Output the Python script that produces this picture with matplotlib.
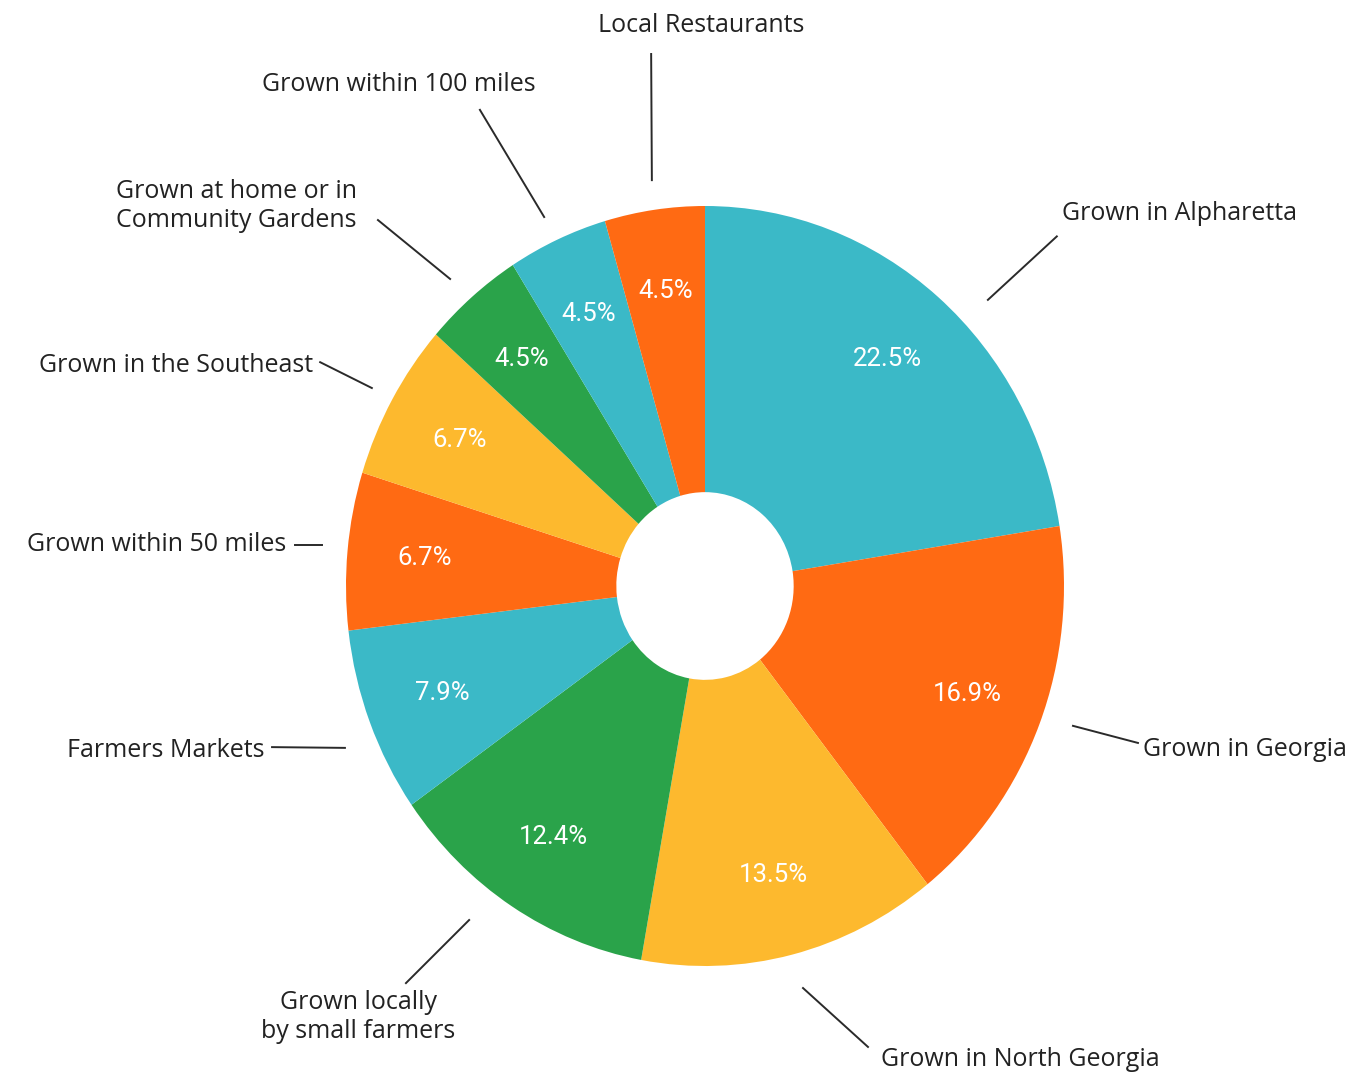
import matplotlib
matplotlib.use("Agg")
import matplotlib.pyplot as plt
import numpy as np

labels = ["Grown in Alpharetta", "Grown in Georgia", "Grown in North Georgia",
          "Grown locally\nby small farmers", "Farmers Markets", "Grown within 50 miles",
          "Grown in the Southeast", "Grown at home or in\nCommunity Gardens",
          "Grown within 100 miles", "Local Restaurants"]
values = [22.5, 16.9, 13.5, 12.4, 7.9, 6.7, 6.7, 4.5, 4.5, 4.5]

TEAL, ORANGE, YELLOW, GREEN = "#3BB9C7", "#FF6A13", "#FDB92E", "#2AA34A"
colors = [TEAL, ORANGE, YELLOW, GREEN, TEAL, ORANGE, YELLOW, GREEN, TEAL, ORANGE]

# leader-line layout: (line start xy, line end xy, text xy, ha) in pie radius units
layout = [
    ((0.788, 0.753), (0.98, 0.92), (0.995, 0.98), "left"),
    ((1.025, -0.368), (1.206, -0.413), (1.22, -0.43), "left"),
    ((0.273, -1.058), (0.454, -1.213), (0.878, -1.245), "center"),
    ((-0.657, -0.879), (-0.833, -1.045), (-0.965, -1.135), "center"),
    ((-1.003, -0.426), (-1.206, -0.424), (-1.228, -0.432), "right"),
    ((-1.067, 0.108), (-1.142, 0.108), (-1.167, 0.108), "right"),
    ((-0.928, 0.521), (-1.072, 0.589), (-1.092, 0.579), "right"),
    ((-0.710, 0.808), (-0.911, 0.963), (-1.306, 1.0), "center"),
    ((-0.448, 0.971), (-0.627, 1.253), (-0.853, 1.32), "center"),
    ((-0.148, 1.068), (-0.150, 1.40), (-0.012, 1.475), "center"),
]

W, H = 1356, 1074
fig = plt.figure(figsize=(W / 100, H / 100), dpi=100)
ax = fig.add_axes([0, 0, 1, 1])

cx, cy = 705, H - 586
rx, ry = 359, 380

wedges, texts, autotexts = ax.pie(
    values, colors=colors, startangle=90, counterclock=False,
    radius=1.0, wedgeprops=dict(width=0.753, edgecolor="none"),
    autopct="%.1f%%", pctdistance=0.785,
    textprops=dict(color="white", fontsize=18.5, family="Roboto"))

ax.set_aspect("auto")
ax.set_xlim(-cx / rx, (W - cx) / rx)
ax.set_ylim(-cy / ry, (H - cy) / ry)
ax.axis("off")

for lab, (p0, p1, pt, ha) in zip(labels, layout):
    ax.plot([p0[0], p1[0]], [p0[1], p1[1]], color="#2a2a2a", lw=1.4)
    ax.text(pt[0], pt[1], lab, ha=ha, va="center", fontsize=18,
            family="Open Sans", color="#222222", linespacing=1.2)

fig.savefig("out.png", dpi=100, facecolor="white")
